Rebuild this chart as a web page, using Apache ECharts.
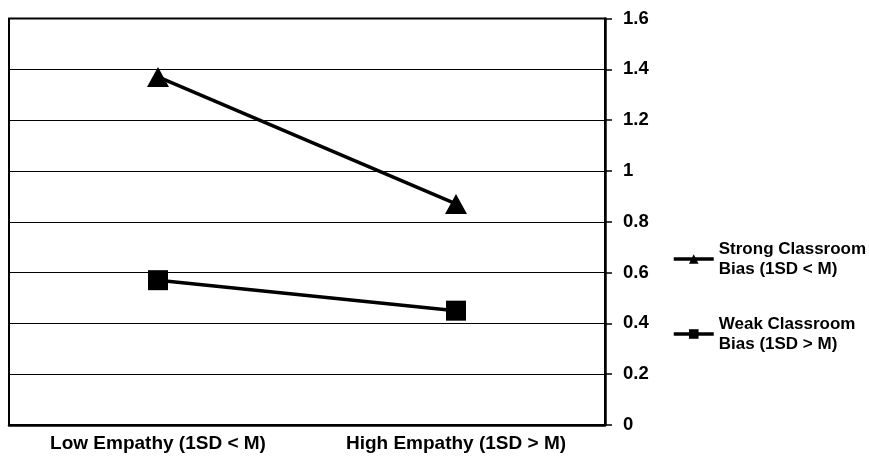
<!DOCTYPE html>
<html>
<head>
<meta charset="utf-8">
<script src="https://cdn.jsdelivr.net/npm/echarts@6/dist/echarts.min.js"></script>
<style>
html,body{margin:0;padding:0;background:#fff;}
#main{width:869px;height:458px;}
</style>
</head>
<body>
<div id="main"></div>
<script>
var categories = ['Low Empathy (1SD < M)', 'High Empathy (1SD > M)'];
var strongBias = [1.37, 0.87];
var weakBias = [0.57, 0.45];
var seriesNames = ['Strong Classroom\nBias (1SD < M)', 'Weak Classroom\nBias (1SD > M)'];

var chart = echarts.init(document.getElementById('main'));
var font = 'Liberation Sans, Arial, sans-serif';
chart.setOption({
  animation: false,
  backgroundColor: '#fff',
  grid: {
    left: 9, right: 264, top: 18.5, bottom: 33,
    show: true, borderColor: '#000', borderWidth: 2
  },
  xAxis: {
    type: 'category',
    data: categories,
    boundaryGap: true,
    axisLine: { show: true, lineStyle: { color: '#000', width: 2.5 } },
    axisTick: { show: false },
    axisLabel: { color: '#000', fontWeight: 'bold', fontSize: 19, fontFamily: font, margin: 9 },
    splitLine: { show: false }
  },
  yAxis: {
    type: 'value',
    position: 'right',
    min: 0, max: 1.6, interval: 0.2,
    axisLine: { show: true, lineStyle: { color: '#000', width: 2.5 } },
    axisTick: { show: true, inside: false, length: 7, lineStyle: { color: '#000', width: 1.5 } },
    axisLabel: {
      color: '#000', fontWeight: 'bold', fontSize: 18.5, fontFamily: font, margin: 18,
      formatter: function (v) { return String(Math.round(v * 10) / 10); }
    },
    splitLine: { show: true, lineStyle: { color: '#000', width: 1 } }
  },
  legend: {
    orient: 'vertical',
    left: 672, top: 229,
    padding: 0,
    itemWidth: 40, itemHeight: 12,
    itemGap: 15,
    lineStyle: { width: 3.5, color: '#000' },
    textStyle: {
      color: '#000', fontWeight: 'bold', fontSize: 17, fontFamily: font,
      lineHeight: 20, padding: [20, 0, 0, 0]
    },
    data: [
      { name: seriesNames[0], itemStyle: { color: '#000' } },
      { name: seriesNames[1], itemStyle: { color: '#000' } }
    ],
    itemStyle: { color: '#000' }
  },
  series: [
    {
      name: seriesNames[0],
      type: 'line',
      data: strongBias,
      symbol: 'triangle',
      symbolSize: [22, 20],
      lineStyle: { color: '#000', width: 3.5 },
      itemStyle: { color: '#000' }
    },
    {
      name: seriesNames[1],
      type: 'line',
      data: weakBias,
      symbol: 'rect',
      symbolSize: 20,
      lineStyle: { color: '#000', width: 3.5 },
      itemStyle: { color: '#000' }
    }
  ]
});
</script>
</body>
</html>
